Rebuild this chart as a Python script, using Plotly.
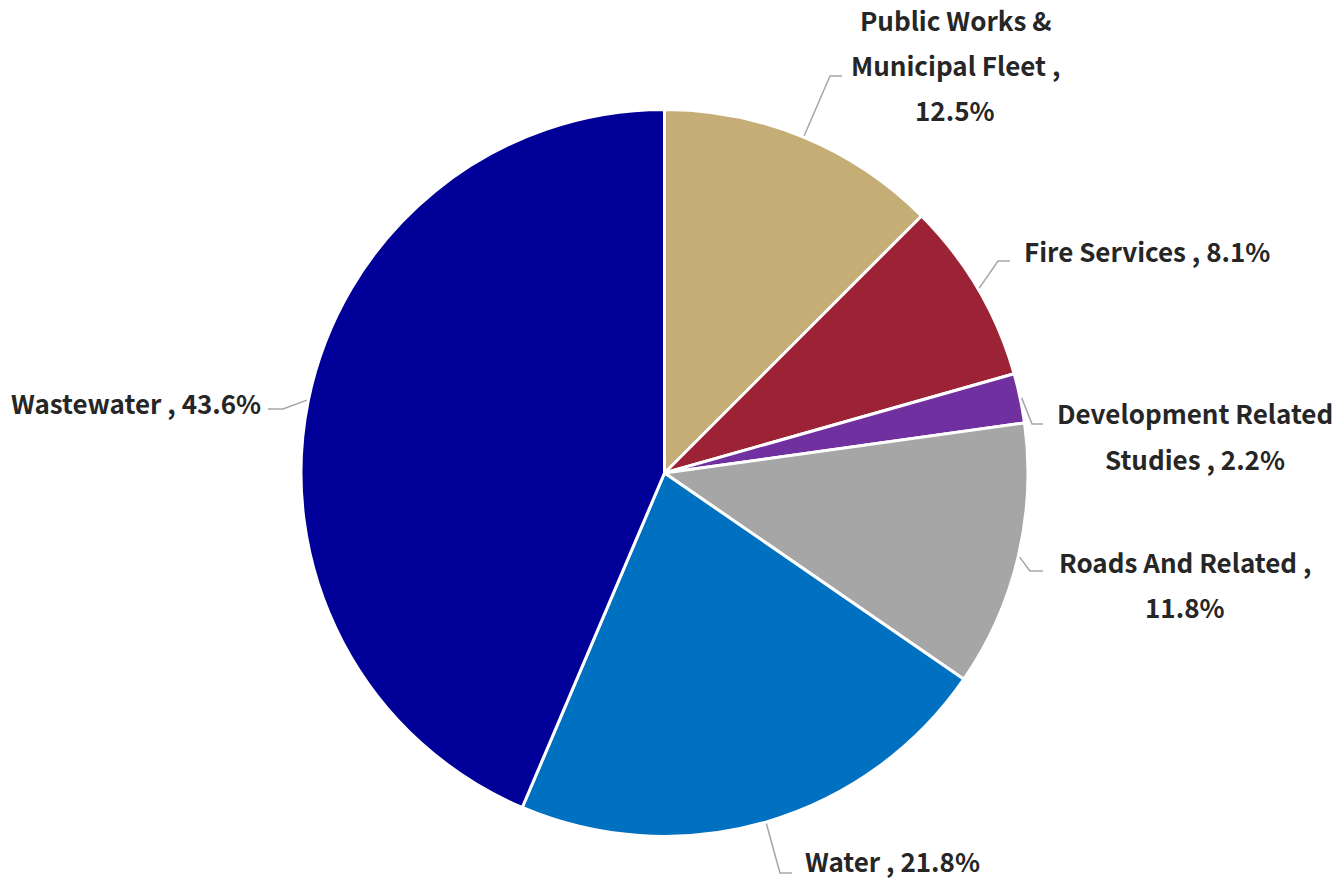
import math
import plotly.graph_objects as go

categories = ["Public Works & Municipal Fleet", "Fire Services", "Development Related Studies",
              "Roads And Related", "Water", "Wastewater"]
values = [12.5, 8.1, 2.2, 11.8, 21.8, 43.6]
label_lines = [
    ["Public Works &", "Municipal Fleet ,", "12.5%"],
    ["Fire Services , 8.1%"],
    ["Development Related", "Studies , 2.2%"],
    ["Roads And Related ,", "11.8%"],
    ["Water , 21.8%"],
    ["Wastewater , 43.6%"],
]
colors = ["#C4AE76", "#9B2335", "#7030A0", "#A6A6A6", "#0070C0", "#000099"]

W, H = 1339, 880
CX, CY, R = 664.5, 473, 362
R_DOMAIN = R + 1.5

# label layout: (elbow x, elbow y, horizontal length, text x, first-line y, anchor)
label_layout = [
    (830, 76, 12, 955, 19, "center"),
    (998, 261, 12, 1022, 250, "left"),
    (1032, 424, 11, 1195, 413, "center"),
    (1030, 571, 13, 1185, 561, "center"),
    (780, 873, 12, 803, 860, "left"),
    (283, 409, -15, 263, 402, "right"),
]
LINE_GAP = 45

def px(x):
    return x / W

def py(y):
    return 1 - y / H

fig = go.Figure(go.Pie(
    labels=categories, values=values, sort=False, direction="clockwise", rotation=0,
    marker=dict(colors=colors, line=dict(color="white", width=3)),
    textinfo="none", hoverinfo="label+percent", showlegend=False,
    domain=dict(x=[px(CX - R_DOMAIN), px(CX + R_DOMAIN)],
                y=[py(CY + R_DOMAIN), py(CY - R_DOMAIN)]),
))

total = sum(values)
cum = 0
shapes = []
annotations = []
for v, lines, (ex, ey, hl, tx, ty, anc) in zip(values, label_lines, label_layout):
    mid = (cum + v / 2) / total * 2 * math.pi
    cum += v
    sx = CX + (R + 3) * math.sin(mid)
    sy = CY - (R + 3) * math.cos(mid)
    path = f"M {px(sx)},{py(sy)} L {px(ex)},{py(ey)} L {px(ex + hl)},{py(ey)}"
    shapes.append(dict(type="path", path=path, xref="paper", yref="paper",
                       line=dict(color="#A6A6A6", width=1.5)))
    for i, t in enumerate(lines):
        annotations.append(dict(
            text=t, x=px(tx), y=py(ty + i * LINE_GAP), xref="paper", yref="paper",
            xanchor=anc, yanchor="middle", showarrow=False,
            font=dict(family="Noto Sans CJK JP", size=26, color="#262626", weight="bold"),
        ))

fig.update_layout(
    width=W, height=H, margin=dict(l=0, r=0, t=0, b=0),
    paper_bgcolor="white", plot_bgcolor="white",
    shapes=shapes, annotations=annotations,
)
fig.write_html("out.html")
